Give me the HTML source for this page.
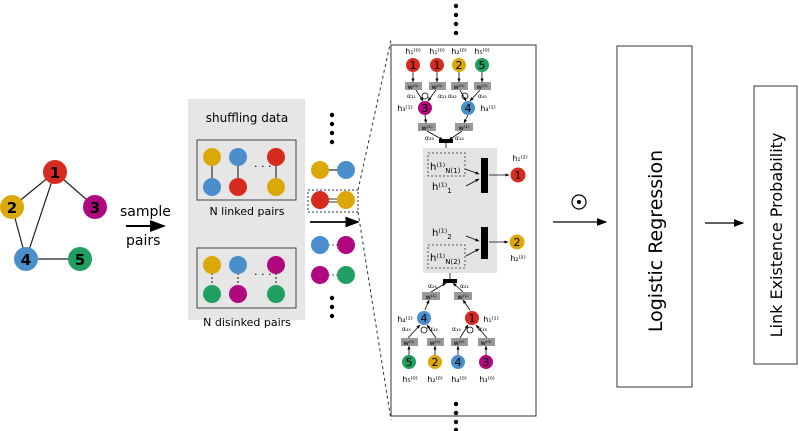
<!DOCTYPE html>
<html><head><meta charset="utf-8"><style>body{margin:0;background:#fff}svg{display:block}text{font-family:"DejaVu Sans","Liberation Sans",sans-serif}</style></head><body>
<svg width="799" height="431" viewBox="0 0 799 431" xmlns="http://www.w3.org/2000/svg">
<defs><marker id="a" markerWidth="8" markerHeight="8" refX="7" refY="4" orient="auto"><path d="M0,1 L8,4 L0,7z" fill="#000"/></marker>
<marker id="s" markerWidth="5" markerHeight="5" refX="4.5" refY="2.5" orient="auto"><path d="M0,0.5 L5,2.5 L0,4.5z" fill="#000"/></marker></defs>
<!-- left graph -->
<g stroke="#222" stroke-width="1.2"><line x1="55" y1="172" x2="12" y2="207"/><line x1="55" y1="172" x2="95" y2="207"/><line x1="55" y1="172" x2="26" y2="259"/><line x1="12" y1="207" x2="26" y2="259"/><line x1="26" y1="259" x2="80" y2="259"/></g>
<g font-weight="bold" font-size="15" text-anchor="middle">
<circle cx="55" cy="172" r="12" fill="#d62b1f"/><text x="55" y="178">1</text>
<circle cx="12" cy="207" r="12" fill="#dba80a"/><text x="12" y="213">2</text>
<circle cx="95" cy="207" r="12" fill="#b0087f"/><text x="95" y="213">3</text>
<circle cx="26" cy="259" r="12" fill="#4a8fcc"/><text x="26" y="265">4</text>
<circle cx="80" cy="259" r="12" fill="#1fa060"/><text x="80" y="265">5</text>
</g>
<text x="120" y="216" font-size="14">sample</text>
<line x1="126" y1="226" x2="164" y2="226" stroke="#000" stroke-width="2" marker-end="url(#a)"/>
<text x="126" y="245" font-size="14">pairs</text>
<!-- shuffling -->
<rect x="188" y="99" width="117" height="221" fill="#e6e6e6"/>
<text x="247" y="122" font-size="12" text-anchor="middle">shuffling data</text>
<rect x="197" y="140" width="99" height="60" fill="none" stroke="#444"/>
<text x="247" y="215" font-size="11" text-anchor="middle">N linked pairs</text>
<rect x="197" y="248" width="99" height="60" fill="none" stroke="#444"/>
<text x="247" y="326" font-size="11" text-anchor="middle">N disinked pairs</text>
<g stroke="#333" stroke-width="1.2"><line x1="212" y1="157" x2="212" y2="187"/><line x1="238" y1="157" x2="238" y2="187"/><line x1="276" y1="157" x2="276" y2="187"/></g>
<g stroke="#333" stroke-width="1.2" stroke-dasharray="2,2"><line x1="212" y1="265" x2="212" y2="294"/><line x1="238" y1="265" x2="238" y2="294"/><line x1="276" y1="265" x2="276" y2="294"/></g>
<text x="254" y="170" font-size="11">· · ·</text><text x="254" y="278" font-size="11">· · ·</text>
<circle cx="212" cy="157" r="9" fill="#dba80a"/><circle cx="212" cy="187" r="9" fill="#4a8fcc"/>
<circle cx="238" cy="157" r="9" fill="#4a8fcc"/><circle cx="238" cy="187" r="9" fill="#d62b1f"/>
<circle cx="276" cy="157" r="9" fill="#d62b1f"/><circle cx="276" cy="187" r="9" fill="#dba80a"/>
<circle cx="212" cy="265" r="9" fill="#dba80a"/><circle cx="212" cy="294" r="9" fill="#1fa060"/>
<circle cx="238" cy="265" r="9" fill="#4a8fcc"/><circle cx="238" cy="294" r="9" fill="#b0087f"/>
<circle cx="276" cy="265" r="9" fill="#b0087f"/><circle cx="276" cy="294" r="9" fill="#1fa060"/>
<!-- pairs column -->
<g fill="#000"><circle cx="332" cy="115" r="2.2"/><circle cx="332" cy="124" r="2.2"/><circle cx="332" cy="133" r="2.2"/><circle cx="332" cy="142" r="2.2"/>
<circle cx="332" cy="298" r="2.2"/><circle cx="332" cy="307" r="2.2"/><circle cx="332" cy="316" r="2.2"/></g>
<line x1="320" y1="170" x2="346" y2="170" stroke="#555" stroke-width="1.5"/>
<line x1="320" y1="199" x2="346" y2="199" stroke="#333" stroke-width="1"/><line x1="320" y1="202" x2="346" y2="202" stroke="#333" stroke-width="1"/>
<line x1="320" y1="245" x2="346" y2="245" stroke="#555" stroke-dasharray="2,2"/><line x1="320" y1="275" x2="346" y2="275" stroke="#555" stroke-dasharray="2,2"/>
<circle cx="320" cy="170" r="9" fill="#dba80a"/><circle cx="346" cy="170" r="9" fill="#4a8fcc"/>
<circle cx="320" cy="200" r="9" fill="#d62b1f"/><circle cx="346" cy="200" r="9" fill="#dba80a"/>
<circle cx="320" cy="245" r="9" fill="#4a8fcc"/><circle cx="346" cy="245" r="9" fill="#b0087f"/>
<circle cx="320" cy="275" r="9" fill="#b0087f"/><circle cx="346" cy="275" r="9" fill="#1fa060"/>
<rect x="308" y="190" width="50" height="22" fill="none" stroke="#333" stroke-dasharray="2,2"/>
<line x1="310" y1="222" x2="358" y2="222" stroke="#000" stroke-width="1.8" marker-end="url(#a)"/>
<line x1="358" y1="190" x2="391" y2="40" stroke="#333" stroke-dasharray="3,3"/>
<line x1="358" y1="212" x2="391" y2="420" stroke="#333" stroke-dasharray="3,3"/>
<!-- big box -->
<rect x="391" y="45" width="145" height="371" fill="#fff" stroke="#333"/>
<g fill="#000"><circle cx="456" cy="6" r="2.2"/><circle cx="456" cy="15" r="2.2"/><circle cx="456" cy="24" r="2.2"/><circle cx="456" cy="33" r="2.2"/>
<circle cx="456" cy="404" r="2.2"/><circle cx="456" cy="413" r="2.2"/><circle cx="456" cy="422" r="2.2"/><circle cx="456" cy="430" r="2.2"/></g>
<rect x="423" y="148" width="74" height="125" fill="#e3e3e3"/>
<g stroke="#000" stroke-width="0.8" fill="none">
<line x1="413" y1="72" x2="413" y2="82" marker-end="url(#s)"/><line x1="437" y1="72" x2="437" y2="82" marker-end="url(#s)"/><line x1="459" y1="72" x2="459" y2="82" marker-end="url(#s)"/><line x1="482" y1="72" x2="482" y2="82" marker-end="url(#s)"/>
<line x1="416" y1="90" x2="423" y2="101" marker-end="url(#s)"/><line x1="436" y1="90" x2="428" y2="101" marker-end="url(#s)"/><line x1="460" y1="90" x2="466" y2="101" marker-end="url(#s)"/><line x1="480" y1="90" x2="470" y2="101" marker-end="url(#s)"/>
<line x1="425" y1="115" x2="426" y2="123" marker-end="url(#s)"/><line x1="468" y1="115" x2="464" y2="123" marker-end="url(#s)"/>
<line x1="427" y1="131" x2="443" y2="140" marker-end="url(#s)"/><line x1="462" y1="131" x2="449" y2="140" marker-end="url(#s)"/>
<line x1="446" y1="143" x2="446" y2="148"/>
<line x1="465" y1="169" x2="479" y2="174" marker-end="url(#s)"/><line x1="466" y1="186" x2="479" y2="179" marker-end="url(#s)"/>
<line x1="489" y1="175" x2="509" y2="175" marker-end="url(#s)"/>
<line x1="466" y1="236" x2="479" y2="241" marker-end="url(#s)"/><line x1="466" y1="256" x2="479" y2="249" marker-end="url(#s)"/>
<line x1="489" y1="242" x2="508" y2="242" marker-end="url(#s)"/>
<line x1="450" y1="273" x2="450" y2="280"/>
<line x1="431" y1="292" x2="446" y2="283" marker-end="url(#s)"/><line x1="463" y1="292" x2="453" y2="283" marker-end="url(#s)"/>
<line x1="425" y1="310" x2="429" y2="300" marker-end="url(#s)"/><line x1="470" y1="310" x2="463" y2="300" marker-end="url(#s)"/>
<line x1="408" y1="338" x2="420" y2="325" marker-end="url(#s)"/><line x1="436" y1="338" x2="427" y2="325" marker-end="url(#s)"/><line x1="460" y1="338" x2="468" y2="325" marker-end="url(#s)"/><line x1="487" y1="338" x2="476" y2="325" marker-end="url(#s)"/>
<line x1="409" y1="355" x2="409" y2="346" marker-end="url(#s)"/><line x1="435" y1="355" x2="435" y2="346" marker-end="url(#s)"/><line x1="458" y1="355" x2="458" y2="346" marker-end="url(#s)"/><line x1="486" y1="355" x2="486" y2="346" marker-end="url(#s)"/>
<circle cx="425" cy="96" r="3"/><circle cx="465" cy="96" r="3"/><circle cx="424" cy="330" r="3"/><circle cx="470" cy="330" r="3"/>
</g>
<rect x="428" y="153" width="37" height="23" fill="none" stroke="#333" stroke-width="0.8" stroke-dasharray="2,2"/>
<rect x="428" y="245" width="37" height="23" fill="none" stroke="#333" stroke-width="0.8" stroke-dasharray="2,2"/>
<rect x="481" y="158" width="7" height="35" fill="#000"/><rect x="481" y="227" width="7" height="32" fill="#000"/>
<rect x="439" y="139" width="14" height="4" fill="#000"/><rect x="443" y="279" width="14" height="4" fill="#000"/>
<g fill="#999"><rect x="405" y="82" width="17" height="8"/><rect x="429" y="82" width="17" height="8"/><rect x="451" y="82" width="17" height="8"/><rect x="474" y="82" width="17" height="8"/>
<rect x="418" y="123" width="18" height="8"/><rect x="455" y="123" width="18" height="8"/>
<rect x="422" y="292" width="18" height="8"/><rect x="454" y="292" width="18" height="8"/>
<rect x="401" y="338" width="17" height="8"/><rect x="427" y="338" width="17" height="8"/><rect x="451" y="338" width="17" height="8"/><rect x="478" y="338" width="17" height="8"/></g>
<g font-size="6.5" text-anchor="middle"><text x="413" y="89">w⁽⁰⁾</text><text x="437" y="89">w⁽⁰⁾</text><text x="459" y="89">w⁽⁰⁾</text><text x="482" y="89">w⁽⁰⁾</text>
<text x="427" y="130">w⁽¹⁾</text><text x="464" y="130">w⁽¹⁾</text><text x="431" y="299">w⁽¹⁾</text><text x="463" y="299">w⁽¹⁾</text>
<text x="409" y="345">w⁽⁰⁾</text><text x="435" y="345">w⁽⁰⁾</text><text x="459" y="345">w⁽⁰⁾</text><text x="486" y="345">w⁽⁰⁾</text></g>
<g font-size="6"><text x="407" y="98">α₃₁</text><text x="438" y="98">α₂₁</text><text x="448" y="98">α₄₂</text><text x="478" y="98">α₄₅</text>
<text x="425" y="140">α₃₃</text><text x="455" y="140">α₁₄</text><text x="428" y="288">α₂₄</text><text x="460" y="288">α₂₁</text>
<text x="402" y="331">α₄₅</text><text x="429" y="331">α₄₂</text><text x="452" y="331">α₁₄</text><text x="478" y="331">α₁₃</text></g>
<g font-size="8" text-anchor="middle"><text x="413" y="54">h₁⁽⁰⁾</text><text x="437" y="54">h₁⁽⁰⁾</text><text x="459" y="54">h₂⁽⁰⁾</text><text x="482" y="54">h₅⁽⁰⁾</text>
<text x="410" y="382">h₅⁽⁰⁾</text><text x="435" y="382">h₂⁽⁰⁾</text><text x="459" y="382">h₄⁽⁰⁾</text><text x="487" y="382">h₃⁽⁰⁾</text>
<text x="405" y="111">h₃⁽¹⁾</text><text x="488" y="111">h₄⁽¹⁾</text><text x="405" y="322">h₄⁽¹⁾</text><text x="491" y="322">h₁⁽¹⁾</text>
<text x="520" y="161">h₁⁽²⁾</text><text x="518" y="261">h₂⁽²⁾</text></g>
<g font-size="10"><text x="430" y="170">h⁽¹⁾<tspan font-size="7" dy="3">N(1)</tspan></text><text x="432" y="190">h⁽¹⁾<tspan font-size="7" dy="3">1</tspan></text>
<text x="432" y="236">h⁽¹⁾<tspan font-size="7" dy="3">2</tspan></text><text x="430" y="261">h⁽¹⁾<tspan font-size="7" dy="3">N(2)</tspan></text></g>
<g font-size="11" text-anchor="middle">
<circle cx="413" cy="65" r="7" fill="#d62b1f"/><text x="413" y="69">1</text>
<circle cx="437" cy="65" r="7" fill="#d62b1f"/><text x="437" y="69">1</text>
<circle cx="459" cy="65" r="7" fill="#dba80a"/><text x="459" y="69">2</text>
<circle cx="482" cy="65" r="7" fill="#1fa060"/><text x="482" y="69">5</text>
<circle cx="425" cy="108" r="7" fill="#b0087f"/><text x="425" y="112">3</text>
<circle cx="468" cy="108" r="7" fill="#4a8fcc"/><text x="468" y="112">4</text>
<circle cx="518" cy="175" r="7.5" fill="#d62b1f"/><text x="518" y="179">1</text>
<circle cx="517" cy="242" r="7.5" fill="#dba80a"/><text x="517" y="246">2</text>
<circle cx="424" cy="318" r="7" fill="#4a8fcc"/><text x="424" y="322">4</text>
<circle cx="472" cy="318" r="7" fill="#d62b1f"/><text x="472" y="322">1</text>
<circle cx="409" cy="362" r="7" fill="#1fa060"/><text x="409" y="366">5</text>
<circle cx="435" cy="362" r="7" fill="#dba80a"/><text x="435" y="366">2</text>
<circle cx="458" cy="362" r="7" fill="#4a8fcc"/><text x="458" y="366">4</text>
<circle cx="486" cy="362" r="7" fill="#b0087f"/><text x="486" y="366">3</text>
</g>
<!-- right -->
<circle cx="579" cy="202" r="7" fill="none" stroke="#000" stroke-width="1.2"/><circle cx="579" cy="202" r="2" fill="#000"/>
<line x1="553" y1="222" x2="606" y2="222" stroke="#000" stroke-width="1.3" marker-end="url(#a)"/>
<rect x="617" y="46" width="75" height="341" fill="none" stroke="#333"/>
<text transform="translate(662,241) rotate(-90)" font-size="19" text-anchor="middle">Logistic Regression</text>
<line x1="705" y1="223" x2="743" y2="223" stroke="#000" stroke-width="1.3" marker-end="url(#a)"/>
<rect x="754" y="86" width="43" height="278" fill="none" stroke="#333"/>
<text transform="translate(782,235) rotate(-90)" font-size="16" text-anchor="middle">Link Existence Probability</text>
</svg>
</body></html>
